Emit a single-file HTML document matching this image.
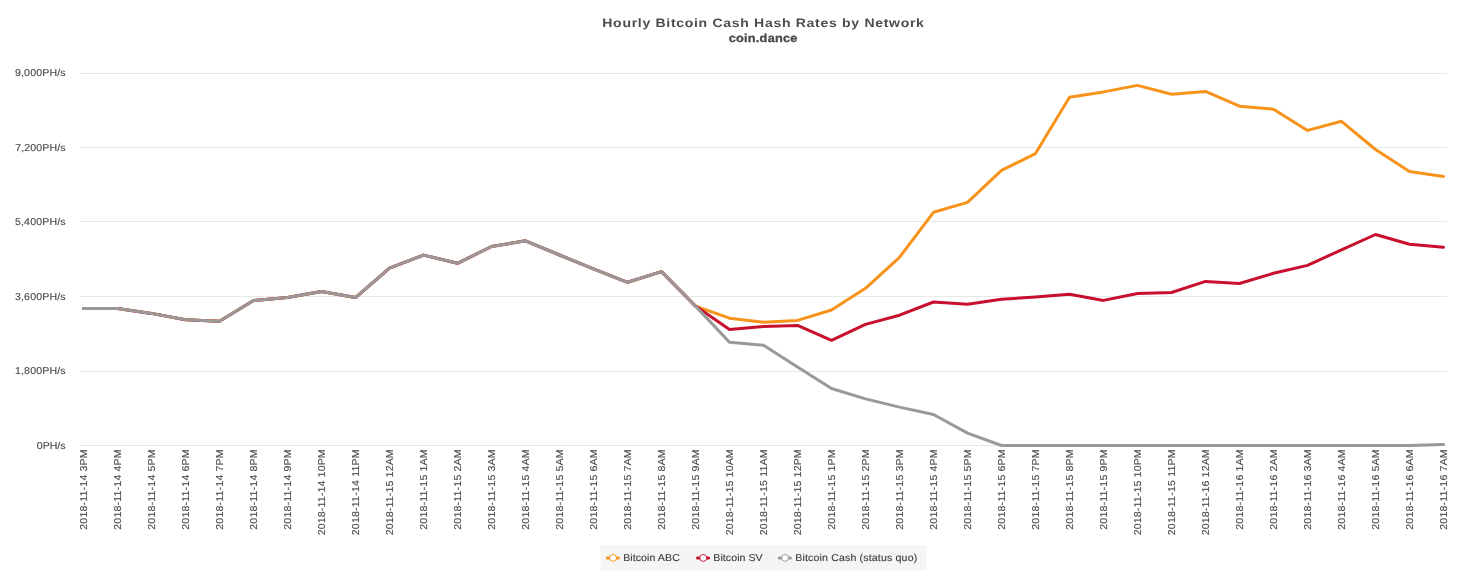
<!DOCTYPE html>
<html><head><meta charset="utf-8"><title>Hourly Bitcoin Cash Hash Rates by Network</title>
<style>
html,body{margin:0;padding:0;background:#fff;}
body{width:1462px;height:585px;overflow:hidden;font-family:"Liberation Sans",sans-serif;}
svg{display:block;will-change:transform;text-rendering:geometricPrecision;}
text{font-family:"Liberation Sans",sans-serif;}
</style></head><body>
<svg width="1462" height="585" viewBox="0 0 1462 585">
<rect x="0" y="0" width="1462" height="585" fill="#ffffff"/>
<rect x="80" y="73" width="1367" height="1" fill="#e8e8e8"/>
<rect x="80" y="147" width="1367" height="1" fill="#e8e8e8"/>
<rect x="80" y="221" width="1367" height="1" fill="#e8e8e8"/>
<rect x="80" y="296" width="1367" height="1" fill="#e8e8e8"/>
<rect x="80" y="371" width="1367" height="1" fill="#e8e8e8"/>
<rect x="80" y="445" width="1367" height="1" fill="#e8e8e8"/>
<polyline fill="none" stroke="#f7931a" stroke-width="3" stroke-linejoin="round" stroke-linecap="round" points="83.5,308.5 117.5,308.5 151.5,313.4 185.5,319.7 219.5,321.2 253.5,300.5 287.5,297.6 321.5,291.6 355.5,297.6 389.5,268.2 423.5,255.1 457.5,263.3 491.5,246.5 525.5,240.8 559.5,255.0 593.5,268.9 627.5,282.3 661.5,271.6 695.5,306.1 729.5,318.2 763.5,322.3 797.5,320.4 831.5,310.0 865.5,288.3 899.5,257.3 933.5,212.3 967.5,202.4 1001.5,170.4 1035.5,153.6 1069.5,97.2 1103.5,91.9 1137.5,85.4 1171.5,94.3 1205.5,91.4 1239.5,106.2 1273.5,109.2 1307.5,130.4 1341.5,121.3 1375.5,149.5 1409.5,171.4 1443.5,176.4"/>
<polyline fill="none" stroke="#c8102e" stroke-width="3" stroke-linejoin="round" stroke-linecap="round" points="83.5,308.5 117.5,308.5 151.5,313.4 185.5,319.7 219.5,321.2 253.5,300.5 287.5,297.6 321.5,291.6 355.5,297.6 389.5,268.2 423.5,255.1 457.5,263.3 491.5,246.5 525.5,240.8 559.5,255.0 593.5,268.9 627.5,282.3 661.5,271.6 695.5,306.1 729.5,329.4 763.5,326.5 797.5,325.4 831.5,340.3 865.5,324.4 899.5,315.2 933.5,302.0 967.5,304.2 1001.5,299.3 1035.5,297.1 1069.5,294.3 1103.5,300.4 1137.5,293.5 1171.5,292.5 1205.5,281.4 1239.5,283.5 1273.5,273.3 1307.5,265.4 1341.5,249.8 1375.5,234.5 1409.5,244.2 1443.5,247.3"/>
<polyline fill="none" stroke="#999999" stroke-width="3" stroke-linejoin="round" stroke-linecap="round" points="83.5,308.5 117.5,308.5 151.5,313.4 185.5,319.7 219.5,321.2 253.5,300.5 287.5,297.6 321.5,291.6 355.5,297.6 389.5,268.2 423.5,255.1 457.5,263.3 491.5,246.5 525.5,240.8 559.5,255.0 593.5,268.9 627.5,282.3 661.5,271.6 695.5,306.1 729.5,342.3 763.5,345.3 797.5,367.0 831.5,388.5 865.5,398.9 899.5,407.1 933.5,414.5 967.5,433.1 1001.5,445.5 1035.5,445.5 1069.5,445.5 1103.5,445.5 1137.5,445.5 1171.5,445.5 1205.5,445.5 1239.5,445.5 1273.5,445.5 1307.5,445.5 1341.5,445.5 1375.5,445.5 1409.5,445.5 1443.5,444.4"/>
<rect x="600.5" y="545.5" width="326" height="25" fill="#f5f5f5"/>
<line x1="607.35" y1="557.9" x2="618.45" y2="557.9" stroke="#f7931a" stroke-width="3" stroke-linecap="round"/>
<circle cx="613.05" cy="557.9" r="3.45" fill="#ffffff" stroke="#f7931a" stroke-width="0.95"/>
<line x1="697.50" y1="557.9" x2="708.60" y2="557.9" stroke="#c8102e" stroke-width="3" stroke-linecap="round"/>
<circle cx="703.20" cy="557.9" r="3.45" fill="#ffffff" stroke="#c8102e" stroke-width="0.95"/>
<line x1="779.35" y1="557.9" x2="790.45" y2="557.9" stroke="#999999" stroke-width="3" stroke-linecap="round"/>
<circle cx="785.05" cy="557.9" r="3.45" fill="#ffffff" stroke="#999999" stroke-width="0.95"/>
<text transform="translate(602.30 27.10) scale(1.1500 1)" font-size="12.2" font-weight="bold" letter-spacing="0.608" fill="#4d4d4d">Hourly Bitcoin Cash Hash Rates by Network</text>
<text transform="translate(728.70 41.90) scale(1.1000 1)" font-size="11.6" font-weight="bold" letter-spacing="0.210" fill="#4a4a4a" stroke="#4a4a4a" stroke-width="0.3">coin.dance</text>
<text transform="translate(15.00 76.00) scale(1.0600 1)" font-size="10.0" letter-spacing="0.129" fill="#484848" stroke="#484848" stroke-width="0.12">9,000PH/s</text>
<text transform="translate(15.20 151.00) scale(1.0600 1)" font-size="10.0" letter-spacing="0.106" fill="#484848" stroke="#484848" stroke-width="0.12">7,200PH/s</text>
<text transform="translate(15.00 225.00) scale(1.0600 1)" font-size="10.0" letter-spacing="0.129" fill="#484848" stroke="#484848" stroke-width="0.12">5,400PH/s</text>
<text transform="translate(15.00 300.00) scale(1.0600 1)" font-size="10.0" letter-spacing="0.129" fill="#484848" stroke="#484848" stroke-width="0.12">3,600PH/s</text>
<text transform="translate(15.00 374.00) scale(1.0600 1)" font-size="10.0" letter-spacing="0.129" fill="#484848" stroke="#484848" stroke-width="0.12">1,800PH/s</text>
<text transform="translate(36.80 449.00) scale(1.0575 1)" font-size="10.0" fill="#484848" stroke="#484848" stroke-width="0.12">0PH/s</text>
<text transform="translate(87.10 529.70) rotate(-90) scale(1.0600 1)" font-size="10.0" letter-spacing="0.161" fill="#484848" stroke="#484848" stroke-width="0.12">2018-11-14 3PM</text>
<text transform="translate(121.10 529.70) rotate(-90) scale(1.0600 1)" font-size="10.0" letter-spacing="0.161" fill="#484848" stroke="#484848" stroke-width="0.12">2018-11-14 4PM</text>
<text transform="translate(155.10 529.70) rotate(-90) scale(1.0600 1)" font-size="10.0" letter-spacing="0.161" fill="#484848" stroke="#484848" stroke-width="0.12">2018-11-14 5PM</text>
<text transform="translate(189.10 529.70) rotate(-90) scale(1.0600 1)" font-size="10.0" letter-spacing="0.161" fill="#484848" stroke="#484848" stroke-width="0.12">2018-11-14 6PM</text>
<text transform="translate(223.10 529.70) rotate(-90) scale(1.0600 1)" font-size="10.0" letter-spacing="0.161" fill="#484848" stroke="#484848" stroke-width="0.12">2018-11-14 7PM</text>
<text transform="translate(257.10 529.70) rotate(-90) scale(1.0600 1)" font-size="10.0" letter-spacing="0.161" fill="#484848" stroke="#484848" stroke-width="0.12">2018-11-14 8PM</text>
<text transform="translate(291.10 529.70) rotate(-90) scale(1.0600 1)" font-size="10.0" letter-spacing="0.161" fill="#484848" stroke="#484848" stroke-width="0.12">2018-11-14 9PM</text>
<text transform="translate(325.10 535.30) rotate(-90) scale(1.0600 1)" font-size="10.0" letter-spacing="0.130" fill="#484848" stroke="#484848" stroke-width="0.12">2018-11-14 10PM</text>
<text transform="translate(359.10 535.30) rotate(-90) scale(1.0600 1)" font-size="10.0" letter-spacing="0.182" fill="#484848" stroke="#484848" stroke-width="0.12">2018-11-14 11PM</text>
<text transform="translate(393.10 535.30) rotate(-90) scale(1.0600 1)" font-size="10.0" letter-spacing="0.130" fill="#484848" stroke="#484848" stroke-width="0.12">2018-11-15 12AM</text>
<text transform="translate(427.10 529.70) rotate(-90) scale(1.0600 1)" font-size="10.0" letter-spacing="0.161" fill="#484848" stroke="#484848" stroke-width="0.12">2018-11-15 1AM</text>
<text transform="translate(461.10 529.70) rotate(-90) scale(1.0600 1)" font-size="10.0" letter-spacing="0.161" fill="#484848" stroke="#484848" stroke-width="0.12">2018-11-15 2AM</text>
<text transform="translate(495.10 529.70) rotate(-90) scale(1.0600 1)" font-size="10.0" letter-spacing="0.161" fill="#484848" stroke="#484848" stroke-width="0.12">2018-11-15 3AM</text>
<text transform="translate(529.10 529.70) rotate(-90) scale(1.0600 1)" font-size="10.0" letter-spacing="0.161" fill="#484848" stroke="#484848" stroke-width="0.12">2018-11-15 4AM</text>
<text transform="translate(563.10 529.70) rotate(-90) scale(1.0600 1)" font-size="10.0" letter-spacing="0.161" fill="#484848" stroke="#484848" stroke-width="0.12">2018-11-15 5AM</text>
<text transform="translate(597.10 529.70) rotate(-90) scale(1.0600 1)" font-size="10.0" letter-spacing="0.161" fill="#484848" stroke="#484848" stroke-width="0.12">2018-11-15 6AM</text>
<text transform="translate(631.10 529.70) rotate(-90) scale(1.0600 1)" font-size="10.0" letter-spacing="0.161" fill="#484848" stroke="#484848" stroke-width="0.12">2018-11-15 7AM</text>
<text transform="translate(665.10 529.70) rotate(-90) scale(1.0600 1)" font-size="10.0" letter-spacing="0.161" fill="#484848" stroke="#484848" stroke-width="0.12">2018-11-15 8AM</text>
<text transform="translate(699.10 529.70) rotate(-90) scale(1.0600 1)" font-size="10.0" letter-spacing="0.161" fill="#484848" stroke="#484848" stroke-width="0.12">2018-11-15 9AM</text>
<text transform="translate(733.10 535.30) rotate(-90) scale(1.0600 1)" font-size="10.0" letter-spacing="0.130" fill="#484848" stroke="#484848" stroke-width="0.12">2018-11-15 10AM</text>
<text transform="translate(767.10 535.30) rotate(-90) scale(1.0600 1)" font-size="10.0" letter-spacing="0.182" fill="#484848" stroke="#484848" stroke-width="0.12">2018-11-15 11AM</text>
<text transform="translate(801.10 535.30) rotate(-90) scale(1.0600 1)" font-size="10.0" letter-spacing="0.130" fill="#484848" stroke="#484848" stroke-width="0.12">2018-11-15 12PM</text>
<text transform="translate(835.10 529.70) rotate(-90) scale(1.0600 1)" font-size="10.0" letter-spacing="0.161" fill="#484848" stroke="#484848" stroke-width="0.12">2018-11-15 1PM</text>
<text transform="translate(869.10 529.70) rotate(-90) scale(1.0600 1)" font-size="10.0" letter-spacing="0.161" fill="#484848" stroke="#484848" stroke-width="0.12">2018-11-15 2PM</text>
<text transform="translate(903.10 529.70) rotate(-90) scale(1.0600 1)" font-size="10.0" letter-spacing="0.161" fill="#484848" stroke="#484848" stroke-width="0.12">2018-11-15 3PM</text>
<text transform="translate(937.10 529.70) rotate(-90) scale(1.0600 1)" font-size="10.0" letter-spacing="0.161" fill="#484848" stroke="#484848" stroke-width="0.12">2018-11-15 4PM</text>
<text transform="translate(971.10 529.70) rotate(-90) scale(1.0600 1)" font-size="10.0" letter-spacing="0.161" fill="#484848" stroke="#484848" stroke-width="0.12">2018-11-15 5PM</text>
<text transform="translate(1005.10 529.70) rotate(-90) scale(1.0600 1)" font-size="10.0" letter-spacing="0.161" fill="#484848" stroke="#484848" stroke-width="0.12">2018-11-15 6PM</text>
<text transform="translate(1039.10 529.70) rotate(-90) scale(1.0600 1)" font-size="10.0" letter-spacing="0.161" fill="#484848" stroke="#484848" stroke-width="0.12">2018-11-15 7PM</text>
<text transform="translate(1073.10 529.70) rotate(-90) scale(1.0600 1)" font-size="10.0" letter-spacing="0.161" fill="#484848" stroke="#484848" stroke-width="0.12">2018-11-15 8PM</text>
<text transform="translate(1107.10 529.70) rotate(-90) scale(1.0600 1)" font-size="10.0" letter-spacing="0.161" fill="#484848" stroke="#484848" stroke-width="0.12">2018-11-15 9PM</text>
<text transform="translate(1141.10 535.30) rotate(-90) scale(1.0600 1)" font-size="10.0" letter-spacing="0.130" fill="#484848" stroke="#484848" stroke-width="0.12">2018-11-15 10PM</text>
<text transform="translate(1175.10 535.30) rotate(-90) scale(1.0600 1)" font-size="10.0" letter-spacing="0.182" fill="#484848" stroke="#484848" stroke-width="0.12">2018-11-15 11PM</text>
<text transform="translate(1209.10 535.30) rotate(-90) scale(1.0600 1)" font-size="10.0" letter-spacing="0.130" fill="#484848" stroke="#484848" stroke-width="0.12">2018-11-16 12AM</text>
<text transform="translate(1243.10 529.70) rotate(-90) scale(1.0600 1)" font-size="10.0" letter-spacing="0.161" fill="#484848" stroke="#484848" stroke-width="0.12">2018-11-16 1AM</text>
<text transform="translate(1277.10 529.70) rotate(-90) scale(1.0600 1)" font-size="10.0" letter-spacing="0.161" fill="#484848" stroke="#484848" stroke-width="0.12">2018-11-16 2AM</text>
<text transform="translate(1311.10 529.70) rotate(-90) scale(1.0600 1)" font-size="10.0" letter-spacing="0.161" fill="#484848" stroke="#484848" stroke-width="0.12">2018-11-16 3AM</text>
<text transform="translate(1345.10 529.70) rotate(-90) scale(1.0600 1)" font-size="10.0" letter-spacing="0.161" fill="#484848" stroke="#484848" stroke-width="0.12">2018-11-16 4AM</text>
<text transform="translate(1379.10 529.70) rotate(-90) scale(1.0600 1)" font-size="10.0" letter-spacing="0.161" fill="#484848" stroke="#484848" stroke-width="0.12">2018-11-16 5AM</text>
<text transform="translate(1413.10 529.70) rotate(-90) scale(1.0600 1)" font-size="10.0" letter-spacing="0.161" fill="#484848" stroke="#484848" stroke-width="0.12">2018-11-16 6AM</text>
<text transform="translate(1447.10 529.70) rotate(-90) scale(1.0600 1)" font-size="10.0" letter-spacing="0.161" fill="#484848" stroke="#484848" stroke-width="0.12">2018-11-16 7AM</text>
<text transform="translate(623.20 561.00) scale(1.0600 1)" font-size="10.0" letter-spacing="0.058" fill="#3a3a3a" stroke="#3a3a3a" stroke-width="0.12">Bitcoin ABC</text>
<text transform="translate(713.30 561.00) scale(1.0600 1)" font-size="10.0" letter-spacing="0.051" fill="#3a3a3a" stroke="#3a3a3a" stroke-width="0.12">Bitcoin SV</text>
<text transform="translate(795.20 561.00) scale(1.0600 1)" font-size="10.0" letter-spacing="0.141" fill="#3a3a3a" stroke="#3a3a3a" stroke-width="0.12">Bitcoin Cash (status quo)</text>
</svg>
</body></html>
